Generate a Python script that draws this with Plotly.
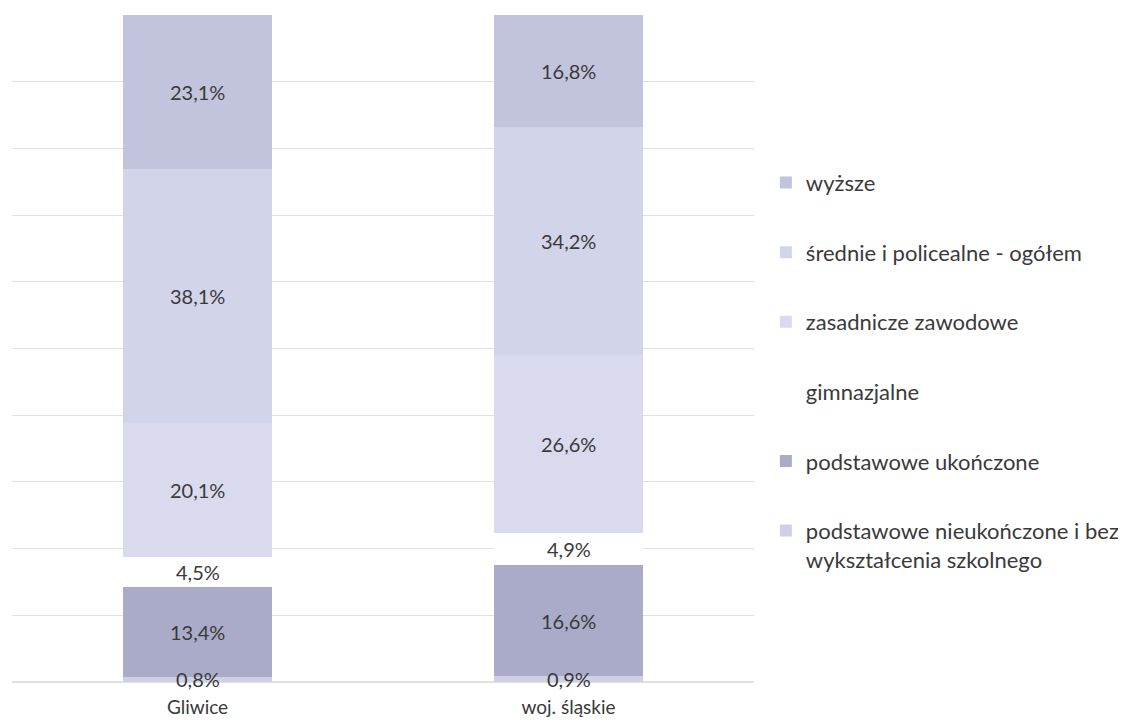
import plotly.graph_objects as go

categories = ["Gliwice", "woj. śląskie"]
series_names = [
    "podstawowe nieukończone i bez<br>wykształcenia szkolnego",
    "podstawowe ukończone",
    "gimnazjalne",
    "zasadnicze zawodowe",
    "średnie i policealne - ogółem",
    "wyższe",
]
nieukonczone = [0.8, 0.9]
ukonczone = [13.4, 16.6]
gimnazjalne = [4.5, 4.9]
zasadnicze = [20.1, 26.6]
srednie = [38.1, 34.2]
wyzsze = [23.1, 16.8]
series_values = [nieukonczone, ukonczone, gimnazjalne, zasadnicze, srednie, wyzsze]
colors = ["#cfd0e4", "#a9abc8", "#ffffff", "#d9daee", "#d2d4ea", "#c2c4dd"]

FONT = "Lato"
TXT = "#3a3a3a"
fig = go.Figure()
for i, (name, vals, col) in enumerate(zip(series_names, series_values, colors)):
    fig.add_trace(go.Bar(
        x=categories, y=vals, name=name,
        marker=dict(color=col, line=dict(width=0)),
        legendgroup=f"g{i}", legendrank=100 - i,
        textposition="none", hoverinfo="skip",
    ))

annotations = []
for ci, cat in enumerate(categories):
    base = 0.0
    for vals in series_values:
        v = vals[ci]
        annotations.append(dict(
            x=cat, y=base + v / 2, xref="x", yref="y",
            text=f"{v:.1f}".replace(".", ",") + "%", showarrow=False,
            font=dict(family=FONT, size=20, color=TXT),
        ))
        base += v

fig.update_layout(
    width=1126, height=722,
    barmode="stack", bargap=0.6,
    paper_bgcolor="white", plot_bgcolor="white",
    margin=dict(l=4, r=380, t=7, b=48),
    font=dict(family=FONT, size=20, color=TXT),
    annotations=annotations,
    showlegend=True,
    legend=dict(
        x=1.016, y=0.780, xanchor="left", yanchor="top",
        traceorder="grouped", tracegroupgap=38, valign="top",
        font=dict(family=FONT, size=22, color=TXT),
        bgcolor="rgba(0,0,0,0)",
    ),
    xaxis=dict(showgrid=False, showline=False, ticks="", ticklabelstandoff=12,
               tickfont=dict(family=FONT, size=19, color=TXT)),
    yaxis=dict(range=[0, 100], dtick=10, showticklabels=False, showgrid=True,
               gridcolor="#e0e0e0", gridwidth=1, zeroline=True,
               zerolinecolor="#e0e0e0", showline=False),
)

fig.write_html("out.html")
